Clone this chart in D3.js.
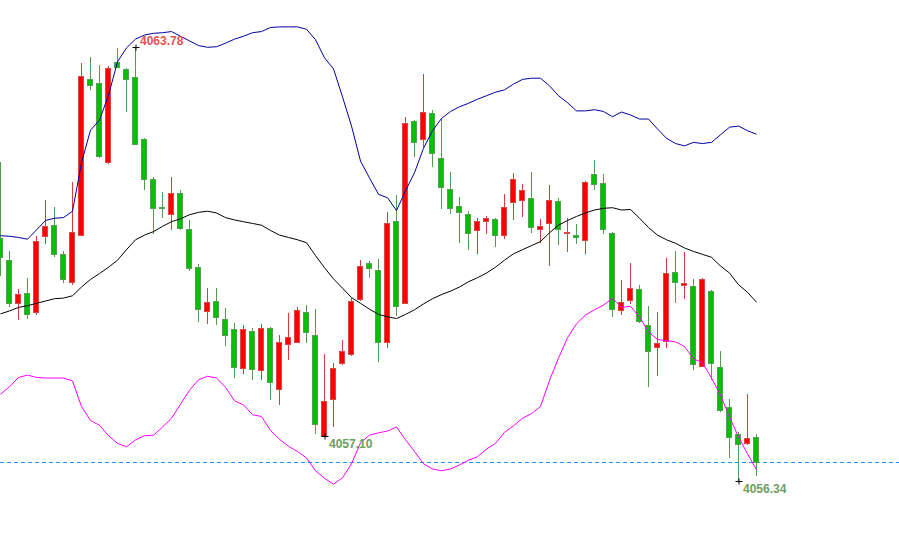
<!DOCTYPE html>
<html>
<head>
<meta charset="utf-8">
<script src="https://cdn.jsdelivr.net/npm/d3@7"></script>
<style>
  html, body { margin: 0; padding: 0; background: #fff; overflow: hidden; }
  svg { display: block; }
  .mark-label { font-family: "Liberation Sans", Arial, sans-serif; font-size: 12px; font-weight: bold; }
</style>
</head>
<body>
<svg id="chart" width="899" height="538"></svg>
<script>
// candles, oldest to newest (red = up, green = down)
const open = [4060.50,4060.12,4059.38,4059.55,4059.24,4060.54,4060.72,4060.22,4059.75,4060.56,
  4063.22,4063.16,4061.80,4063.51,4063.39,4063.26,4062.20,4061.51,4061.03,4060.92,
  4061.27,4060.65,4060.00,4059.25,4059.42,4059.11,4058.94,4058.28,4058.90,4058.23,
  4058.95,4057.91,4058.68,4058.72,4059.23,4058.84,4057.11,4057.74,4058.35,4058.51,
  4059.45,4060.07,4059.96,4058.72,4060.79,4059.39,4062.51,4062.19,4062.64,4061.88,
  4061.34,4061.05,4060.91,4060.63,4060.80,4060.82,4060.56,4061.12,4061.16,4061.18,
  4060.65,4060.75,4061.14,4060.59,4060.55,4060.46,4061.60,4061.44,4060.58,4059.27,
  4059.44,4059.62,4059.01,4058.63,4058.73,4059.91,4059.69,4059.68,4058.31,4059.59,
  4058.29,4057.60,4057.14,4056.98,4057.09];
const high = [4061.81,4060.27,4059.63,4059.82,4060.54,4061.15,4061.04,4060.28,4061.46,4063.50,
  4063.61,4063.47,4063.45,4063.76,4063.41,4063.78,4062.22,4061.55,4061.29,4061.55,
  4061.32,4060.81,4060.06,4059.65,4059.65,4059.30,4059.04,4059.01,4058.95,4059.03,
  4058.98,4058.84,4059.22,4059.32,4059.35,4059.28,4058.51,4058.36,4058.75,4059.48,
  4060.12,4060.11,4060.14,4060.94,4061.24,4062.57,4062.52,4063.31,4062.70,4062.55,
  4061.63,4061.21,4060.96,4060.85,4060.88,4060.84,4061.25,4061.61,4061.42,4061.63,
  4060.82,4061.41,4061.19,4060.84,4060.74,4061.48,4061.84,4061.60,4060.61,4059.78,
  4060.08,4059.70,4059.33,4059.23,4060.16,4060.28,4060.26,4059.79,4059.82,4059.61,
  4058.56,4057.74,4057.18,4057.83,4057.14];
const low = [4059.87,4059.33,4059.11,4059.13,4059.20,4060.41,4060.20,4059.75,4059.72,4060.55,
  4063.06,4061.89,4061.79,4063.43,4062.68,4062.11,4061.34,4060.58,4060.86,4060.65,
  4060.66,4059.95,4059.07,4059.05,4059.03,4058.67,4058.11,4058.18,4058.08,4058.08,
  4057.74,4057.65,4058.43,4058.71,4058.71,4057.15,4057.10,4057.28,4058.34,4058.49,
  4059.44,4059.83,4058.40,4058.63,4059.18,4059.38,4061.91,4062.08,4061.74,4061.02,
  4060.93,4060.44,4060.32,4060.24,4060.58,4060.37,4060.50,4060.82,4060.88,4060.61,
  4060.44,4060.03,4060.40,4060.27,4060.42,4060.25,4061.34,4060.58,4059.17,4059.20,
  4059.39,4059.06,4057.97,4058.15,4058.64,4059.41,4059.48,4058.25,4058.30,4058.08,
  4057.54,4056.75,4056.34,4056.97,4056.43];
const close = [4060.18,4059.38,4059.54,4059.19,4060.45,4060.71,4060.22,4059.79,4060.60,4063.28,
  4063.12,4061.90,4063.41,4063.44,4063.22,4062.12,4061.52,4061.01,4061.02,4061.27,
  4060.67,4059.98,4059.28,4059.40,4059.14,4058.84,4058.29,4058.94,4058.25,4058.95,
  4058.03,4058.71,4058.80,4059.26,4058.89,4057.31,4057.71,4058.28,4058.57,4059.42,
  4060.02,4059.98,4058.72,4060.76,4059.33,4062.48,4062.15,4062.66,4061.95,4061.38,
  4061.01,4060.95,4060.59,4060.79,4060.84,4060.56,4061.03,4061.52,4061.32,4060.69,
  4060.71,4061.16,4060.65,4060.60,4060.51,4061.46,4061.42,4060.65,4059.28,4059.41,
  4059.64,4059.07,4058.56,4058.70,4059.90,4059.75,4059.73,4058.34,4059.80,4058.35,
  4057.55,4057.09,4056.97,4057.08,4056.66];

// bollinger bands, one value per candle
const bbUpper = [4060.54,4060.53,4060.51,4060.48,4060.64,4060.80,4060.84,4060.85,4060.96,4061.79,
  4062.35,4062.52,4062.95,4063.52,4063.76,4063.91,4063.98,4064.01,4064.02,4064.04,
  4063.96,4063.88,4063.80,4063.77,4063.78,4063.84,4063.91,4063.96,4064.02,4064.04,
  4064.11,4064.12,4064.12,4064.12,4064.08,4063.90,4063.59,4063.40,4062.92,4062.42,
  4061.82,4061.53,4061.25,4061.19,4060.97,4061.31,4061.62,4062.04,4062.34,4062.55,
  4062.67,4062.75,4062.81,4062.88,4062.94,4063.00,4063.04,4063.14,4063.22,4063.24,
  4063.24,4063.11,4062.94,4062.82,4062.68,4062.68,4062.70,4062.67,4062.58,4062.66,
  4062.61,4062.54,4062.54,4062.37,4062.21,4062.12,4062.08,4062.14,4062.12,4062.14,
  4062.27,4062.40,4062.42,4062.34,4062.28];
const bbMiddle = [4059.20,4059.25,4059.31,4059.34,4059.38,4059.42,4059.46,4059.47,4059.51,4059.66,
  4059.79,4059.89,4060.00,4060.12,4060.30,4060.47,4060.55,4060.61,4060.70,4060.78,
  4060.83,4060.90,4060.94,4060.96,4060.93,4060.85,4060.81,4060.78,4060.75,4060.72,
  4060.63,4060.55,4060.51,4060.47,4060.42,4060.20,4059.99,4059.80,4059.64,4059.48,
  4059.38,4059.28,4059.19,4059.15,4059.12,4059.19,4059.27,4059.37,4059.46,4059.53,
  4059.59,4059.66,4059.75,4059.82,4059.90,4060.00,4060.12,4060.23,4060.30,4060.37,
  4060.44,4060.59,4060.72,4060.80,4060.87,4060.93,4060.98,4061.01,4061.02,4060.98,
  4060.99,4060.84,4060.68,4060.55,4060.47,4060.41,4060.33,4060.27,4060.22,4060.17,
  4060.02,4059.90,4059.70,4059.57,4059.40];
const bbLower = [4057.82,4057.95,4058.11,4058.15,4058.11,4058.10,4058.10,4058.10,4058.05,4057.61,
  4057.37,4057.29,4057.11,4056.98,4056.92,4057.04,4057.11,4057.12,4057.26,4057.41,
  4057.65,4057.89,4058.07,4058.13,4058.10,4057.94,4057.71,4057.64,4057.47,4057.44,
  4057.20,4057.05,4056.93,4056.84,4056.73,4056.51,4056.38,4056.28,4056.39,4056.63,
  4056.99,4057.12,4057.16,4057.19,4057.26,4057.04,4056.84,4056.63,4056.54,4056.51,
  4056.54,4056.61,4056.69,4056.75,4056.88,4056.98,4057.17,4057.28,4057.41,4057.49,
  4057.61,4058.06,4058.44,4058.79,4059.03,4059.18,4059.27,4059.35,4059.47,4059.31,
  4059.33,4059.15,4058.89,4058.76,4058.74,4058.72,4058.64,4058.43,4058.36,4058.10,
  4057.81,4057.43,4057.09,4056.80,4056.53];

// marked extremes and the current price line
const markIndex = [15, 36, 82];
const markValue = [4063.78, 4057.10, 4056.34];
const markLabel = ["4063.78", "4057.10", "4056.34"];
const lastPrice = 4056.66;

const svg = d3.select("#chart");
const width = +svg.attr("width");
const height = +svg.attr("height");

const n = close.length;
const xScale = d3.scaleLinear().domain([0, n - 1]).range([0.5, 756.5]);
const yScale = d3.scaleLinear().domain([4055.357, 4064.581]).range([height, 0]);

const crisp = v => Math.round(v) + 0.5;
const bodyW = 5;

const candles = d3.range(n).map(i => ({
    i, o: open[i], h: high[i], l: low[i], c: close[i], up: close[i] > open[i]
}));

// current price (dashed)
svg.append("line")
    .attr("x1", 0).attr("x2", width)
    .attr("y1", crisp(yScale(lastPrice))).attr("y2", crisp(yScale(lastPrice)))
    .attr("stroke", "#1e90ff")
    .attr("stroke-width", 1)
    .attr("stroke-dasharray", "4,3");

// wicks
svg.append("g").selectAll("line")
    .data(candles)
    .join("line")
    .attr("x1", d => xScale(d.i)).attr("x2", d => xScale(d.i))
    .attr("y1", d => Math.round(yScale(d.h)))
    .attr("y2", d => Math.round(yScale(d.l)) + 1)
    .attr("stroke", d => d.up ? "#d83c3c" : "#4f9e4f")
    .attr("stroke-width", 1);

// bodies
svg.append("g").selectAll("rect")
    .data(candles)
    .join("rect")
    .attr("x", d => xScale(d.i) - 3)
    .attr("width", bodyW)
    .attr("y", d => crisp(yScale(Math.max(d.o, d.c))))
    .attr("height", d => Math.max(0.01, crisp(yScale(Math.min(d.o, d.c))) - crisp(yScale(Math.max(d.o, d.c)))))
    .attr("fill", d => d.up ? "#ff0000" : "#00c000")
    .attr("stroke", d => d.up ? "#d84646" : "#55a055")
    .attr("stroke-width", 1);

// bollinger lines
const bandLine = arr => d3.line()
    .x((d, i) => xScale(i))
    .y(d => yScale(d))(arr);

svg.append("path").attr("d", bandLine(bbUpper))
    .attr("fill", "none").attr("stroke", "#0000a0").attr("stroke-width", 1);
svg.append("path").attr("d", bandLine(bbMiddle))
    .attr("fill", "none").attr("stroke", "#000000").attr("stroke-width", 1);
svg.append("path").attr("d", bandLine(bbLower))
    .attr("fill", "none").attr("stroke", "#ff00ff").attr("stroke-width", 1);

// high / low markers
const marks = markIndex.map((idx, k) => ({
    x: xScale(idx), y: yScale(markValue[k]), label: markLabel[k], isHigh: k === 0
}));

const mg = svg.append("g").selectAll("g")
    .data(marks)
    .join("g");

mg.append("line")
    .attr("x1", d => crisp(d.x) - 4).attr("x2", d => crisp(d.x) + 3)
    .attr("y1", d => crisp(d.y)).attr("y2", d => crisp(d.y))
    .attr("stroke", "#000").attr("stroke-width", 1);
mg.append("line")
    .attr("x1", d => crisp(d.x) - 0.5).attr("x2", d => crisp(d.x) - 0.5)
    .attr("y1", d => crisp(d.y) - 3).attr("y2", d => crisp(d.y) + 3)
    .attr("stroke", "#000").attr("stroke-width", 1);

mg.append("text")
    .attr("class", "mark-label")
    .attr("x", d => d.x + 4.5)
    .attr("y", d => d.isHigh ? d.y - 2 : d.y + 12)
    .attr("fill", d => d.isHigh ? "#e35353" : "#6ca05c")
    .text(d => d.label);
</script>
</body>
</html>
